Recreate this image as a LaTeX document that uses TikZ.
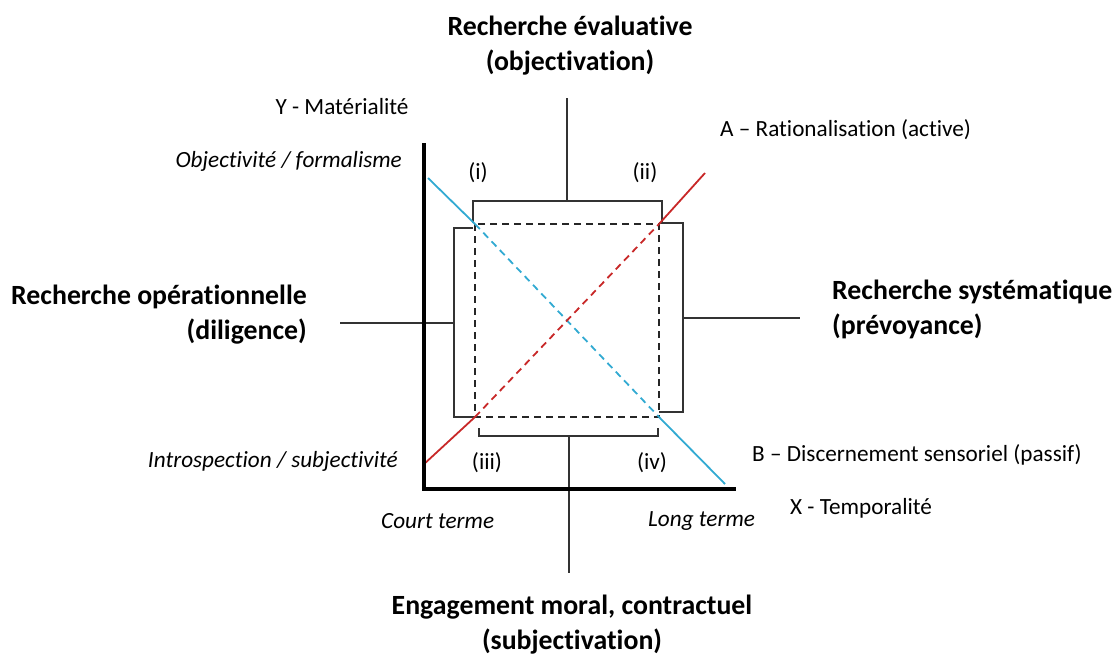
\documentclass[tikz,border=0pt]{standalone}
\usepackage{fontspec}
\setmainfont[Ligatures={NoCommon}]{Carlito}
\usetikzlibrary{positioning}
\definecolor{lineA}{RGB}{200,40,40}
\definecolor{lineB}{RGB}{50,170,210}

\begin{document}
\begin{tikzpicture}
                    [
                        x=1pt, y=-1pt,
                        head/.style = {font=\bfseries\fontsize{27.8}{35}\selectfont, inner sep=0pt},
                        lbl/.style = {font=\fontsize{23.2}{27}\selectfont, inner sep=0pt},
                        ital/.style = {font=\itshape\fontsize{23.2}{27}\selectfont, inner sep=0pt},
                        thin/.style = {draw=black!80, line width=1.1pt},
                        axis/.style = {draw=black, line width=4pt},
                        zone/.style = {draw=black!85, line width=1.8pt, dash pattern=on 7pt off 5pt},
                    ]
                    \useasboundingbox (0,0) rectangle (1115,657);

                    % axes
                    \coordinate (ytop) at (424,143);
                    \coordinate (orig) at (424,489);
                    \coordinate (xend) at (736,489);

                    % dashed square
                    \coordinate (sqnw) at (475,224);
                    \coordinate (sqne) at (659,224);
                    \coordinate (sqsw) at (475,417);
                    \coordinate (sqse) at (659,417);

                    % brackets
                    \coordinate (tl) at (473,223);
                    \coordinate (tr) at (662,223);
                    \coordinate (tmid) at (567,201);
                    \coordinate (ttop) at (567,98);

                    \coordinate (lt) at (473,228);
                    \coordinate (lmid) at (454,323);
                    \coordinate (lend) at (340,323);

                    \coordinate (rt) at (659,223);
                    \coordinate (rb) at (659,412);
                    \coordinate (rmid) at (683,318);
                    \coordinate (rend) at (800,318);

                    \coordinate (bl) at (479,428);
                    \coordinate (br) at (658,428);
                    \coordinate (bmid) at (569,436);
                    \coordinate (bend) at (569,573);

                    % diagonals
                    \coordinate (a0) at (423,465);
                    \coordinate (a1) at (705,173);
                    \coordinate (b0) at (428,178);
                    \coordinate (b1) at (725,484);

                    \node[head, align=center] (eval) at (570,46) {Recherche évaluative\\(objectivation)};
                    \node[head, align=right, anchor=east] (oper) at (307,315) {Recherche opérationnelle\\(diligence)};
                    \node[head, align=left, anchor=west] (syst) at (832,309) {Recherche systématique\\(prévoyance)};
                    \node[head, align=center] (engag) at (572,625) {Engagement moral, contractuel\\(subjectivation)};

                    \node[lbl] (ymat) at (342,107) {Y - Matérialité};
                    \node[ital, anchor=east] (objf) at (402,161) {Objectivité / formalisme};
                    \node[ital, anchor=east] (intro) at (398,461) {Introspection / subjectivité};
                    \node[lbl, anchor=west] (ratio) at (720,130) {A – Rationalisation (active)};
                    \node[lbl, anchor=west] (disc) at (752,455) {B – Discernement sensoriel (passif)};
                    \node[ital, anchor=west] (court) at (381,521) {Court terme};
                    \node[ital, anchor=west] (long) at (648,521) {Long terme};
                    \node[lbl, anchor=west] (xtemp) at (790,508) {X - Temporalité};

                    \node[lbl] (q1) at (478,173) {(i)};
                    \node[lbl] (q2) at (645,173) {(ii)};
                    \node[lbl] (q3) at (487,463) {(iii)};
                    \node[lbl] (q4) at (652,463) {(iv)};

                    \draw[thin] (tl) |- (tmid) -| (tr);
                    \draw[thin] (tmid) -- (ttop);
                    \draw[thin] (lt) -| (lmid) |- (sqsw);
                    \draw[thin] (lmid) -- (lend);
                    \draw[thin] (rt) -| (rmid) |- (rb);
                    \draw[thin] (rmid) -- (rend);
                    \draw[thin] (bl) |- (bmid) -| (br);
                    \draw[thin] (bmid) -- (bend);

                    \draw[zone] (sqnw) rectangle (sqse);

                    \draw[lineB, line width=1.8pt] (b0) -- (sqnw);
                    \draw[lineB, line width=1.8pt, dash pattern=on 7pt off 5pt] (sqnw) -- (sqse);
                    \draw[lineB, line width=1.8pt] (sqse) -- (b1);

                    \draw[lineA, line width=1.8pt] (a0) -- (sqsw);
                    \draw[lineA, line width=1.8pt, dash pattern=on 7pt off 5pt] (sqsw) -- (sqne);
                    \draw[lineA, line width=1.8pt] (sqne) -- (a1);

                    \draw[axis] (ytop) -- (orig) -- (xend);
                \end{tikzpicture}
\end{document}
